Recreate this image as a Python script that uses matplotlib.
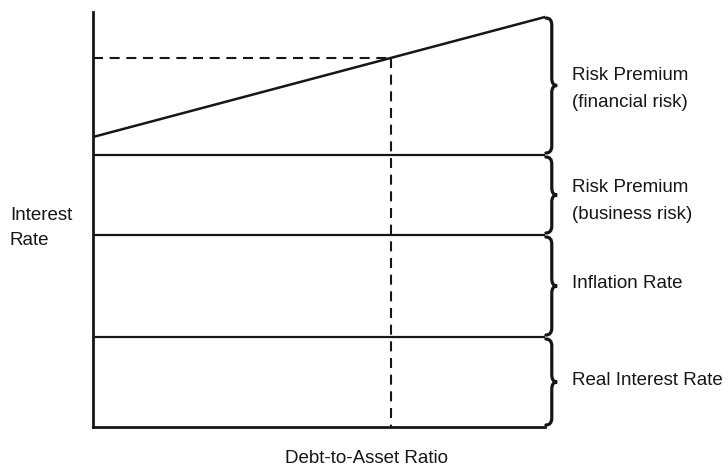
import matplotlib
matplotlib.use("Agg")
import matplotlib.pyplot as plt
from matplotlib.path import Path
from matplotlib.patches import PathPatch

# levels of the stacked rate components (arbitrary units)
real_rate = 9.0
inflation = 19.2
business = 27.2
slope_x = [0, 10]
slope_y = [29.0, 41.0]
chosen_x = 6.6
chosen_y = 36.9

labels = ["Real Interest Rate", "Inflation Rate",
          "Risk Premium\n(business risk)", "Risk Premium\n(financial risk)"]
label_y = [4.7, 14.4, 22.6, 33.8]

plt.rcParams['font.family'] = ['Liberation Sans', 'DejaVu Sans']

fig = plt.figure(figsize=(7.28, 4.69), dpi=100)
ax = fig.add_axes([93 / 728, 42 / 469, 452 / 728, 415 / 469])
ax.set_xlim(0, 10)
ax.set_ylim(0, 41.5)
for s in ['top', 'right']:
    ax.spines[s].set_visible(False)
col = '#161616'
for s in ['left', 'bottom']:
    ax.spines[s].set_linewidth(2)
    ax.spines[s].set_color(col)
ax.set_xticks([])
ax.set_yticks([])

for lvl in [real_rate, inflation, business]:
    ax.plot([0, 10], [lvl, lvl], color=col, lw=1.6, solid_capstyle='butt')
ax.plot(slope_x, slope_y, color=col, lw=1.8)
ax.plot([0, chosen_x], [chosen_y, chosen_y], color=col, lw=1.5, dashes=(4.8, 3.2))
ax.plot([chosen_x, chosen_x], [chosen_y, 0], color=col, lw=1.5, dashes=(4.8, 3.2))


def brace(ax, y0, y1, x0=10.02, xm=10.15, xt=10.27, r=0.7):
    yc = (y0 + y1) / 2
    verts = [(x0, y1), (xm, y1), (xm, y1 - r),
             (xm, yc + r), (xm, yc), (xt, yc),
             (xm, yc), (xm, yc - r),
             (xm, y0 + r), (xm, y0), (x0, y0)]
    codes = [Path.MOVETO, Path.CURVE3, Path.CURVE3,
             Path.LINETO, Path.CURVE3, Path.CURVE3,
             Path.CURVE3, Path.CURVE3,
             Path.LINETO, Path.CURVE3, Path.CURVE3]
    ax.add_patch(PathPatch(Path(verts, codes), fill=False, lw=2.3,
                           color=col, clip_on=False, capstyle='round'))


edges = [0, real_rate, inflation, business, slope_y[1]]
for i in range(4):
    lo = edges[i] + 0.2
    hi = edges[i + 1] - (0.2 if i < 3 else 0.1)
    brace(ax, lo, hi)

for lab, yy in zip(labels, label_y):
    ax.text(10.6, yy, lab, ha='left', va='center', fontsize=13.5,
            color=col, linespacing=1.75, clip_on=False)

ax.text(-1.84, 19.9, "Interest\nRate", ha='left', va='center', fontsize=13.5,
        color=col, linespacing=1.55, clip_on=False)
ax.text(6.04, -3.1, "Debt-to-Asset Ratio", ha='center', va='center',
        fontsize=13.5, color=col, clip_on=False)

fig.savefig("out.png", dpi=100)
